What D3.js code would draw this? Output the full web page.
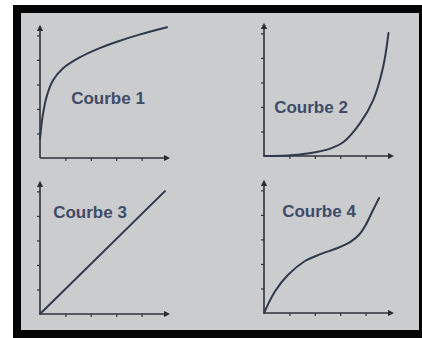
<!DOCTYPE html>
<html>
<head>
<meta charset="utf-8">
<script src="https://cdn.jsdelivr.net/npm/d3@7/dist/d3.min.js"></script>
<style>
  html, body { margin: 0; padding: 0; background: #ffffff; }
  svg { display: block; }
</style>
</head>
<body>
<svg id="chart" width="422" height="338"></svg>
<script>
// Curve shapes, in axis units (x: 0..5, y: 0..5.3)
const titles = ["Courbe 1", "Courbe 2", "Courbe 3", "Courbe 4"];
const courbe1 = [[0,0.77],[0.1,1.68],[0.26,2.5],[0.52,3.18],[0.91,3.66],[1.56,4.1],[2.21,4.42],[3.0,4.73],[3.91,5.03],[5.0,5.33]];
const courbe2 = [[0,0],[0.94,0.02],[1.84,0.12],[2.58,0.29],[3.13,0.57],[3.79,1.35],[4.3,2.28],[4.69,3.63],[4.9,5.01]];
const courbe3 = [[0,0],[4.92,5.01]];
const courbe4 = [[0,0],[0.43,0.88],[0.95,1.56],[1.6,2.11],[2.25,2.41],[2.9,2.65],[3.43,2.92],[3.75,3.2],[4.01,3.6],[4.27,4.15],[4.53,4.69]];
const xTicks = [1, 2, 3, 4];
const yTicks = [1, 2, 3, 4, 5];

const svg = d3.select("#chart");

// frame
svg.append("rect").attr("x", 13).attr("y", 5).attr("width", 409).attr("height", 333).attr("fill", "#050505");
svg.append("rect").attr("x", 21).attr("y", 13).attr("width", 398).attr("height", 317).attr("fill", "#cbcccd");

const defs = svg.append("defs");
defs.append("marker").attr("id", "arrow")
  .attr("viewBox", "0 0 10 10").attr("refX", 5).attr("refY", 5)
  .attr("markerWidth", 4).attr("markerHeight", 4).attr("orient", "auto")
  .append("path").attr("d", "M0,0L10,5L0,10Z").attr("fill", "#2a2d33");

const panels = [
  { data: courbe1, ox: 40,  oy: 158, label: [108, 98] },
  { data: courbe2, ox: 264, oy: 156, label: [311, 107] },
  { data: courbe3, ox: 40,  oy: 314, label: [90, 212] },
  { data: courbe4, ox: 264, oy: 313, label: [319, 211] }
];
const width = 127, height = 130;
const axisColor = "#2f3238";
const lineColor = "#2e3a4c";

panels.forEach((p, i) => {
  const x = d3.scaleLinear().domain([0, 5]).range([p.ox, p.ox + width]);
  const y = d3.scaleLinear().domain([0, 5.3]).range([p.oy, p.oy - height]);
  const g = svg.append("g");

  // axes with small ticks
  const ax = g.append("g").attr("transform", `translate(0,${p.oy})`)
    .call(d3.axisBottom(x).tickValues(xTicks).tickSize(3).tickFormat(""));
  const ay = g.append("g").attr("transform", `translate(${p.ox},0)`)
    .call(d3.axisLeft(y).tickValues(yTicks).tickSize(3).tickFormat(""));
  [ax, ay].forEach(a => {
    a.select(".domain").remove();
    a.selectAll(".tick line").attr("stroke", axisColor).attr("stroke-width", 1.2);
  });
  g.append("line").attr("x1", x(0)).attr("y1", y(0)).attr("x2", x(5)).attr("y2", y(0))
    .attr("stroke", axisColor).attr("stroke-width", 1.6).attr("marker-end", "url(#arrow)");
  g.append("line").attr("x1", x(0)).attr("y1", y(0)).attr("x2", x(0)).attr("y2", y(5.3))
    .attr("stroke", axisColor).attr("stroke-width", 1.6).attr("marker-end", "url(#arrow)");

  // curve
  const line = d3.line().x(d => x(d[0])).y(d => y(d[1])).curve(d3.curveCatmullRom.alpha(0.5));
  g.append("path").datum(p.data).attr("d", line)
    .attr("fill", "none").attr("stroke", lineColor).attr("stroke-width", 2)
    .attr("stroke-linecap", "round");

  // title
  g.append("text").attr("x", p.label[0]).attr("y", p.label[1])
    .attr("text-anchor", "middle").attr("dominant-baseline", "central")
    .attr("font-family", "'Liberation Sans', Arial, sans-serif")
    .attr("font-weight", "bold").attr("font-size", 17)
    .attr("fill", "#3f4b68").text(titles[i]);
});
</script>
</body>
</html>
